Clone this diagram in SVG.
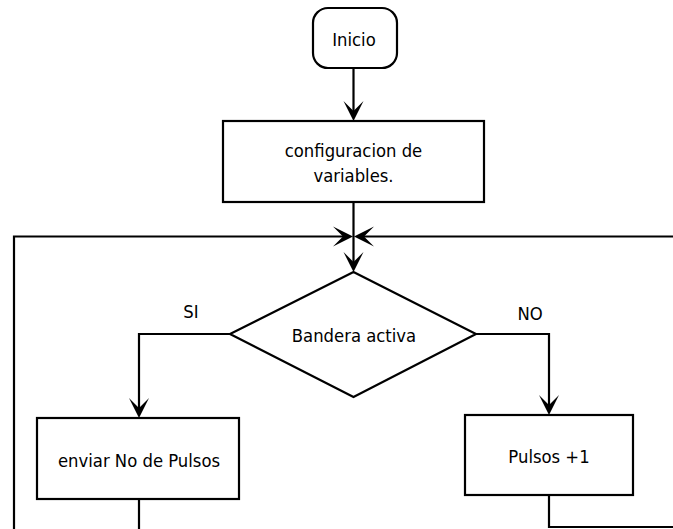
<svg xmlns="http://www.w3.org/2000/svg" width="673" height="529" viewBox="0 0 673 529">
<style>
.s{fill:#fff;stroke:#000;stroke-width:2.2}
.c{fill:none;stroke:#000;stroke-width:2.2}
.t{font-family:"DejaVu Sans Condensed","DejaVu Sans",Verdana,sans-serif;font-stretch:condensed;font-size:18.3px;fill:#000;text-anchor:middle}
</style>
<defs>
<marker id="a" viewBox="-11 -11 23 22" refX="0" refY="0" markerWidth="23" markerHeight="22" markerUnits="userSpaceOnUse" orient="auto">
<path d="M10,0 L-10,-10 L0,0 L-10,10 Z" fill="#000"/>
</marker>
</defs>
<rect width="673" height="529" fill="#fff"/>
<g id="connectors">
<path class="c" d="M353.5,68 V111" marker-end="url(#a)"/>
<path class="c" d="M353.5,202 V262" marker-end="url(#a)"/>
<path class="c" d="M139,499 V545 H14 V236.5 H343" marker-end="url(#a)"/>
<path class="c" d="M549,495 V527 H700 V236.5 H364" marker-end="url(#a)"/>
<path class="c" d="M230,334 H139 V408" marker-end="url(#a)"/>
<path class="c" d="M476,334 H549 V405" marker-end="url(#a)"/>
<text class="t" x="191" y="318">SI</text>
<text class="t" x="530" y="320">NO</text>
</g>
<g id="inicio">
<rect class="s" x="313" y="8" width="84" height="60" rx="15" ry="15"/>
<text class="t" x="354" y="46">Inicio</text>
</g>
<g id="config">
<rect class="s" x="223" y="121" width="261" height="81"/>
<text class="t" x="353.5" y="157">configuracion de</text>
<text class="t" x="353.5" y="182">variables.</text>
</g>
<g id="bandera">
<path class="s" d="M353.5,272 L476,334 L353.5,397 L230,334 Z"/>
<text class="t" x="354" y="342">Bandera activa</text>
</g>
<g id="enviar">
<rect class="s" x="37" y="418" width="202" height="81"/>
<text class="t" x="139" y="467">enviar No de Pulsos</text>
</g>
<g id="pulsos">
<rect class="s" x="465" y="415" width="168" height="80"/>
<text class="t" x="549" y="463">Pulsos +1</text>
</g>
</svg>
